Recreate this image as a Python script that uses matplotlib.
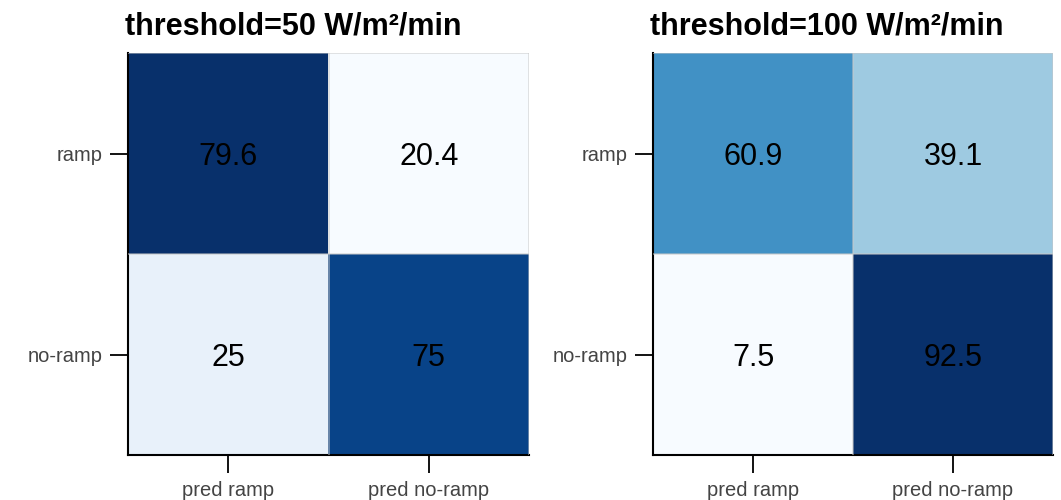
import matplotlib
matplotlib.use("Agg")
import matplotlib.pyplot as plt
import numpy as np

plt.rcParams['font.family'] = ['Liberation Sans', 'DejaVu Sans']

row_labels = ["ramp", "no-ramp"]
col_labels = ["pred ramp", "pred no-ramp"]
titles = ["threshold=50 W/m\u00b2/min", "threshold=100 W/m\u00b2/min"]
cm_50 = [[79.6, 20.4], [25, 75]]
cm_100 = [[60.9, 39.1], [7.5, 92.5]]

W, H = 1061, 500
fig = plt.figure(figsize=(W / 100, H / 100), dpi=100)

boxes = [(128, 53, 401, 402), (653, 53, 400, 402)]
edge_kw = dict(color="#c8c8c8", lw=1.2, alpha=0.6, zorder=3)

for (x0, y0, w, h), title, cm in zip(boxes, titles, [cm_50, cm_100]):
    ax = fig.add_axes([x0 / W, 1 - (y0 + h) / H, w / W, h / H])
    data = np.array(cm, dtype=float)
    ax.imshow(data, cmap="Blues", aspect="auto", interpolation="nearest",
              vmin=data.min(), vmax=data.max())
    for i in range(data.shape[0]):
        for j in range(data.shape[1]):
            ax.text(j, i, f"{data[i, j]:g}", ha="center", va="center_baseline",
                    fontsize=22, color="black")
    # faint cell borders
    for p in (-0.5, 0.5):
        ax.axhline(p, **edge_kw)
    for p in (0.5, 1.5):
        ax.axvline(p, **edge_kw)
    ax.set_xlim(-0.5, 1.5)
    ax.set_ylim(1.5, -0.5)
    ax.set_xticks(range(len(col_labels)))
    ax.set_xticklabels(col_labels)
    ax.set_yticks(range(len(row_labels)))
    ax.set_yticklabels(row_labels)
    ax.tick_params(axis="both", direction="out", length=13, width=1.3,
                   colors="black", labelcolor="#444444", labelsize=14.5)
    ax.tick_params(axis="x", pad=6)
    ax.tick_params(axis="y", pad=5)
    for s in ("top", "right"):
        ax.spines[s].set_visible(False)
    for s in ("left", "bottom"):
        ax.spines[s].set_linewidth(1.5)
        ax.spines[s].set_color("black")
    ax.set_title(title, loc="left", fontsize=22, fontweight="bold", pad=13, x=-0.008)

fig.savefig("out.png", dpi=100)
